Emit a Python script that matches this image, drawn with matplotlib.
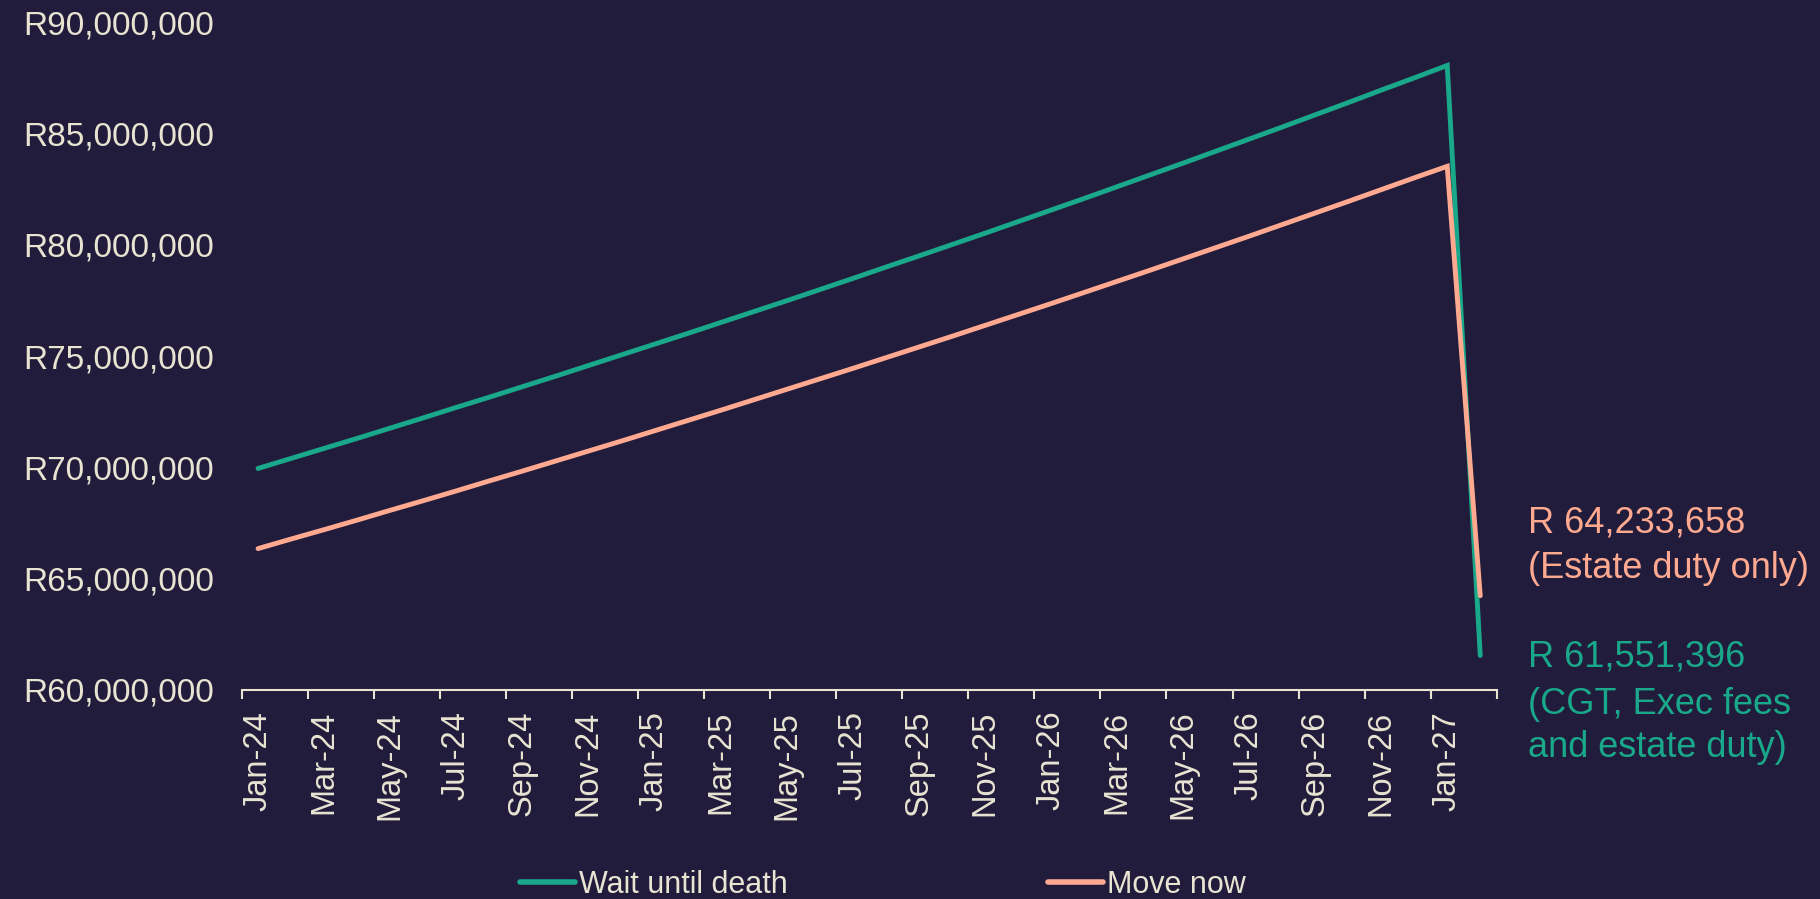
import matplotlib.pyplot as plt
from matplotlib.ticker import FuncFormatter
from matplotlib.lines import Line2D

BG = '#221c3c'
CREAM = '#e8e4d2'
GREEN = '#19a98a'
ORANGE = '#ffaa90'

plt.rcParams['font.family'] = ['Liberation Sans', 'DejaVu Sans']

# monthly categories Jan-24 .. Feb-27
months = ['Jan-24', 'Feb-24', 'Mar-24', 'Apr-24', 'May-24', 'Jun-24', 'Jul-24', 'Aug-24',
          'Sep-24', 'Oct-24', 'Nov-24', 'Dec-24', 'Jan-25', 'Feb-25', 'Mar-25', 'Apr-25',
          'May-25', 'Jun-25', 'Jul-25', 'Aug-25', 'Sep-25', 'Oct-25', 'Nov-25', 'Dec-25',
          'Jan-26', 'Feb-26', 'Mar-26', 'Apr-26', 'May-26', 'Jun-26', 'Jul-26', 'Aug-26',
          'Sep-26', 'Oct-26', 'Nov-26', 'Dec-26', 'Jan-27', 'Feb-27']

# values in R millions
wait_until_death = [69.95, 70.40, 70.85, 71.30, 71.76, 72.22, 72.69, 73.15, 73.62, 74.09,
                    74.57, 75.05, 75.53, 76.01, 76.50, 76.99, 77.48, 77.98, 78.48, 78.99,
                    79.49, 80.00, 80.51, 81.03, 81.55, 82.07, 82.60, 83.13, 83.66, 84.20,
                    84.74, 85.28, 85.83, 86.38, 86.94, 87.49, 88.05, 61.551396]
move_now = [66.35, 66.78, 67.20, 67.63, 68.07, 68.50, 68.94, 69.39, 69.83, 70.28,
            70.73, 71.18, 71.64, 72.10, 72.56, 73.03, 73.50, 73.97, 74.44, 74.92,
            75.40, 75.88, 76.37, 76.86, 77.35, 77.85, 78.35, 78.85, 79.36, 79.87,
            80.38, 80.90, 81.42, 81.94, 82.47, 83.00, 83.52, 64.233658]

wait_note = '(CGT, Exec fees\nand estate duty)'
move_note = '(Estate duty only)'

wait = [v * 1e6 for v in wait_until_death]
move = [v * 1e6 for v in move_now]
x = list(range(len(months)))

fig = plt.figure(figsize=(18.2, 8.99), dpi=100, facecolor=BG)
ax = fig.add_axes([0.1327, 0.2325, 0.8224 - 0.1327, 0.9755 - 0.2325], facecolor=BG)

ax.plot(x, wait, color=GREEN, lw=3.5, solid_capstyle='round', solid_joinstyle='miter')
ax.plot(x, move, color=ORANGE, lw=3.5, solid_capstyle='round', solid_joinstyle='miter')

ax.set_xlim(-0.5, len(months) - 0.5)
ax.set_ylim(60e6, 90e6)
ax.set_yticks([60e6 + 5e6 * i for i in range(7)])
ax.yaxis.set_major_formatter(FuncFormatter(lambda v, p: f'R{v:,.0f}'))

# labels at category centres, ticks on the boundaries
ax.set_xticks(x[::2], months[::2], rotation=90)
ax.set_xticks([i - 0.5 for i in range(0, len(months) + 1, 2)], minor=True)

for s in ['top', 'right', 'left']:
    ax.spines[s].set_visible(False)
ax.spines['bottom'].set_color(CREAM)
ax.spines['bottom'].set_linewidth(1.5)

ax.tick_params(axis='y', length=0, pad=20, labelsize=24, labelcolor=CREAM)
ax.tick_params(axis='x', which='major', length=0, pad=15, labelsize=23.5, labelcolor=CREAM)
ax.tick_params(axis='x', which='minor', length=6.5, width=1.5, color=CREAM)

# end labels
fig.text(0.8396, 0.4075, f'R {move[-1]:,.0f}', color=ORANGE, fontsize=26, va='baseline')
fig.text(0.8396, 0.3574, move_note, color=ORANGE, fontsize=26, va='baseline')
fig.text(0.8396, 0.2584, f'R {wait[-1]:,.0f}', color=GREEN, fontsize=26, va='baseline')
for i, line in enumerate(wait_note.split('\n')):
    fig.text(0.8396, 0.2060 - 0.048 * i, line, color=GREEN, fontsize=26, va='baseline')

handles = [Line2D([], [], color=GREEN, lw=4, solid_capstyle='round'),
           Line2D([], [], color=ORANGE, lw=4, solid_capstyle='round')]
fig.legend(handles, ['Wait until death', 'Move now'], loc='center', ncol=2,
           bbox_to_anchor=(0.485, 0.016), frameon=False, fontsize=22,
           labelcolor=CREAM, handlelength=1.8, handletextpad=0.15,
           columnspacing=8.5, borderaxespad=0, borderpad=0)

fig.savefig('out.png', dpi=100, facecolor=BG)
